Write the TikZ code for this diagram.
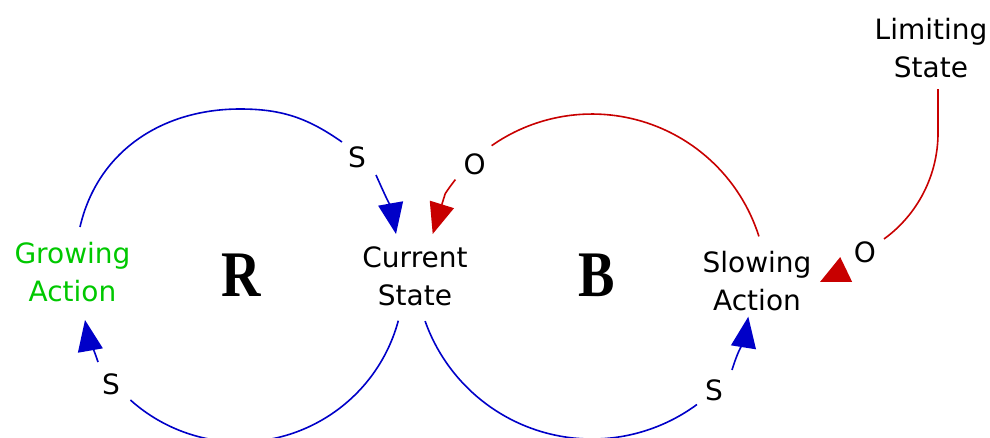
\documentclass[tikz,border=0pt]{standalone}
\usepackage{fontspec}
\setmainfont{DejaVu Sans}
\newfontfamily\loopfont{Liberation Serif}
\usetikzlibrary{arrows.meta}
\definecolor{cblue}{RGB}{0,0,200}
\definecolor{cred}{RGB}{200,0,0}
\definecolor{cgreen}{RGB}{0,200,0}
\begin{document}
\begin{tikzpicture}[x=1pt,y=1pt,
  lbl/.style={font=\fontsize{28}{38}\selectfont, align=center, inner sep=0pt},
  sign/.style={font=\fontsize{28}{34}\selectfont, inner sep=0pt},
  loopmark/.style={font=\loopfont\bfseries\fontsize{65}{70}\selectfont, inner sep=0pt, xscale=0.84},
  bconn/.style={draw=cblue, line width=1.6pt},
  rconn/.style={draw=cred, line width=1.6pt},
  tiparrow/.style={-{Triangle[length=31pt,width=25pt]}},
  smalltip/.style={-{Triangle[length=29pt,width=27pt]}}
]
\useasboundingbox (0,0) rectangle (990,-437);

% variables
\node[lbl, text=cgreen] (ga) at (72.5,-271.7) {Growing\\Action};
\node[lbl] (cs) at (415,-276.7) {Current\\State};
\node[lbl] (sa) at (757,-281.4) {Slowing\\Action};
\node[lbl] (ls) at (931,-48.4) {Limiting\\State};

% loop markers
\node[loopmark] (R) at (241.7,-275.7) {R};
\node[loopmark] (B) at (597,-275.5) {B};

% link polarity labels
\node[sign] (s1) at (357,-157) {S};
\node[sign] (o1) at (474.7,-164) {O};
\node[sign] (o2) at (865,-252) {O};
\node[sign] (s2) at (111,-384.5) {S};
\node[sign] (s3) at (714,-390.5) {S};

% connector end points
\coordinate (a0) at (80,-227);
\coordinate (a1) at (240,-109);
\coordinate (a2) at (342,-142);
\coordinate (a3) at (376,-175);
\coordinate (a4) at (396,-234);

\coordinate (b0) at (398.3,-320.7);
\coordinate (b1) at (98,-362);
\coordinate (b2) at (85,-320);

\coordinate (c0) at (425.1,-321.1);
\coordinate (c1) at (732,-370);
\coordinate (c2) at (748.3,-316.7);

\coordinate (d0) at (758.9,-236.4);
\coordinate (d1) at (455.4,-179.6);
\coordinate (d2) at (432.7,-234);

\coordinate (e0) at (938,-89);
\coordinate (e1) at (938,-133);
\coordinate (e2) at (846,-269.5);
\coordinate (e3) at (820,-282);

% Growing Action -> Current State (S)
\draw[bconn] (a0) to[out=77,in=180] (a1) to[out=0,in=145] (a2);
\draw[bconn, tiparrow] (a3) to[out=-66,in=100] (a4);

% Current State -> Growing Action (S)
\draw[bconn] (b0) arc[start angle=-15.1, end angle=-131.9, radius=164];
\draw[bconn, tiparrow] (b1) to[out=108,in=-80] (b2);

% Current State -> Slowing Action (S)
\draw[bconn] (c0) arc[start angle=-160.5, end angle=-53.6, radius=177];
\draw[bconn, tiparrow] (c1) to[out=73,in=-99] (c2);

% Slowing Action -> Current State (O)
\draw[rconn] (d0) arc[start angle=17.5, end angle=125, radius=175];
\draw[rconn, tiparrow] (d1) arc[start angle=141.3, end angle=147, radius=175] -- (d2);

% Limiting State -> Slowing Action (O)
\draw[rconn] (e0) -- (e1) arc[start angle=0, end angle=-54, radius=131];
\draw[rconn, smalltip] (e2) -- (e3);
\end{tikzpicture}
\end{document}
